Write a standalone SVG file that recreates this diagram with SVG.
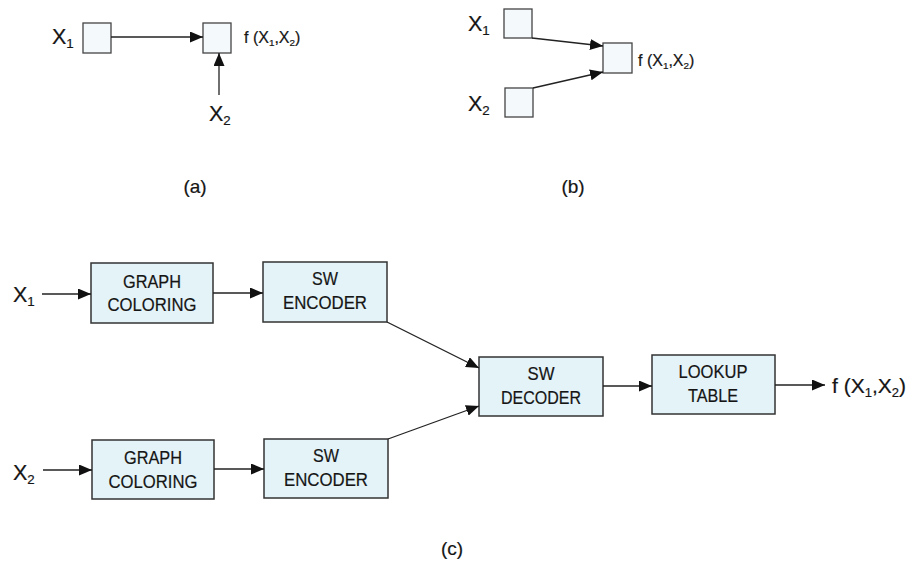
<svg xmlns="http://www.w3.org/2000/svg" width="907" height="584" viewBox="0 0 907 584">
  <defs>
    <marker id="arrow" viewBox="0 0 13 11" refX="13" refY="5.5" markerWidth="13" markerHeight="11" markerUnits="userSpaceOnUse" orient="auto">
      <path d="M0,0 L13,5.5 L0,11 Z" fill="#111"/>
    </marker>
    <style>
      .bg { fill: #ffffff; }
      .sq { fill: #f4f9fb; stroke: #444; stroke-width: 1.3; }
      .blk { fill: #e4f3f8; stroke: #333; stroke-width: 1.5; }
      .wire { fill: none; stroke: #222; stroke-width: 1.3; marker-end: url(#arrow); }
      text { font-family: "Liberation Sans", Arial, Helvetica, sans-serif; fill: #151515; stroke: #151515; stroke-width: 0.2; }
      .var { font-size: 21.5px; }
      .fn { font-size: 16px; }
      .fnl { font-size: 21px; }
      .cap { font-size: 18.5px; text-anchor: middle; }
      .lbl { font-size: 19px; text-anchor: middle; }
      .sub { font-size: 0.62em; }
    </style>
  </defs>
  <rect class="bg" x="0" y="0" width="907" height="584"/>

  <!-- (a) series arrangement -->
  <g id="a-x1">
    <text class="var" x="52" y="44">X<tspan class="sub" dy="4">1</tspan></text>
    <rect class="sq" x="83" y="23" width="28" height="30"/>
  </g>
  <g id="a-f">
    <rect class="sq" x="203" y="23" width="28" height="30"/>
    <text class="fn" x="244" y="43">f (X<tspan class="sub" dy="3">1</tspan><tspan dy="-3">,X</tspan><tspan class="sub" dy="3">2</tspan><tspan dy="-3">)</tspan></text>
  </g>
  <g id="a-x2">
    <text class="var" x="209" y="121">X<tspan class="sub" dy="4">2</tspan></text>
  </g>
  <text class="lbl" x="195" y="193">(a)</text>

  <!-- (b) parallel arrangement -->
  <g id="b-x1">
    <text class="var" x="468" y="31">X<tspan class="sub" dy="4">1</tspan></text>
    <rect class="sq" x="504" y="9" width="28" height="29"/>
  </g>
  <g id="b-x2">
    <text class="var" x="468" y="111">X<tspan class="sub" dy="4">2</tspan></text>
    <rect class="sq" x="505" y="88" width="28" height="29"/>
  </g>
  <g id="b-f">
    <rect class="sq" x="603" y="43" width="29" height="30"/>
    <text class="fn" x="638" y="66">f (X<tspan class="sub" dy="3">1</tspan><tspan dy="-3">,X</tspan><tspan class="sub" dy="3">2</tspan><tspan dy="-3">)</tspan></text>
  </g>
  <text class="lbl" x="573" y="193">(b)</text>

  <!-- (c) coloring-based coding scheme -->
  <g id="c-x1"><text class="var" x="13" y="302">X<tspan class="sub" dy="4">1</tspan></text></g>
  <g id="c-x2"><text class="var" x="13" y="480">X<tspan class="sub" dy="4">2</tspan></text></g>
  <g id="gc1">
    <rect class="blk" x="91" y="263" width="122" height="60"/>
    <text class="cap" x="152" y="288" textLength="58" lengthAdjust="spacingAndGlyphs">GRAPH</text>
    <text class="cap" x="152" y="311" textLength="89" lengthAdjust="spacingAndGlyphs">COLORING</text>
  </g>
  <g id="swe1">
    <rect class="blk" x="263" y="262" width="124" height="60"/>
    <text class="cap" x="325" y="285" textLength="26" lengthAdjust="spacingAndGlyphs">SW</text>
    <text class="cap" x="325" y="309" textLength="84" lengthAdjust="spacingAndGlyphs">ENCODER</text>
  </g>
  <g id="gc2">
    <rect class="blk" x="92" y="440" width="122" height="59"/>
    <text class="cap" x="153" y="464" textLength="58" lengthAdjust="spacingAndGlyphs">GRAPH</text>
    <text class="cap" x="153" y="488" textLength="89" lengthAdjust="spacingAndGlyphs">COLORING</text>
  </g>
  <g id="swe2">
    <rect class="blk" x="264" y="439" width="124" height="59"/>
    <text class="cap" x="326" y="462" textLength="26" lengthAdjust="spacingAndGlyphs">SW</text>
    <text class="cap" x="326" y="486" textLength="84" lengthAdjust="spacingAndGlyphs">ENCODER</text>
  </g>
  <g id="swd">
    <rect class="blk" x="479" y="357" width="124" height="59"/>
    <text class="cap" x="541" y="380" textLength="27" lengthAdjust="spacingAndGlyphs">SW</text>
    <text class="cap" x="541" y="404" textLength="80" lengthAdjust="spacingAndGlyphs">DECODER</text>
  </g>
  <g id="lut">
    <rect class="blk" x="652" y="355" width="123" height="59"/>
    <text class="cap" x="713" y="378" textLength="69" lengthAdjust="spacingAndGlyphs">LOOKUP</text>
    <text class="cap" x="713" y="402" textLength="50" lengthAdjust="spacingAndGlyphs">TABLE</text>
  </g>
  <g id="c-f">
    <text class="fnl" x="832" y="393">f (X<tspan class="sub" dy="4">1</tspan><tspan dy="-4">,X</tspan><tspan class="sub" dy="4">2</tspan><tspan dy="-4">)</tspan></text>
  </g>
  <text class="lbl" x="452" y="555">(c)</text>

  <g id="connectors">
    <!-- (a) -->
    <line class="wire" x1="111" y1="37" x2="203" y2="37"/>
    <line class="wire" x1="219" y1="95" x2="219" y2="53"/>
    <!-- (b) -->
    <line class="wire" x1="532" y1="38" x2="603" y2="46"/>
    <line class="wire" x1="533" y1="88" x2="603" y2="72"/>
    <!-- (c) -->
    <line class="wire" x1="42" y1="294" x2="91" y2="294"/>
    <line class="wire" x1="213" y1="293" x2="263" y2="293"/>
    <line class="wire" x1="43" y1="470" x2="92" y2="470"/>
    <line class="wire" x1="214" y1="469" x2="264" y2="469"/>
    <line class="wire" x1="387" y1="322" x2="479" y2="368"/>
    <line class="wire" x1="388" y1="439" x2="479" y2="406"/>
    <line class="wire" x1="603" y1="386" x2="652" y2="386"/>
    <line class="wire" x1="775" y1="385" x2="825" y2="385"/>
  </g>
</svg>
